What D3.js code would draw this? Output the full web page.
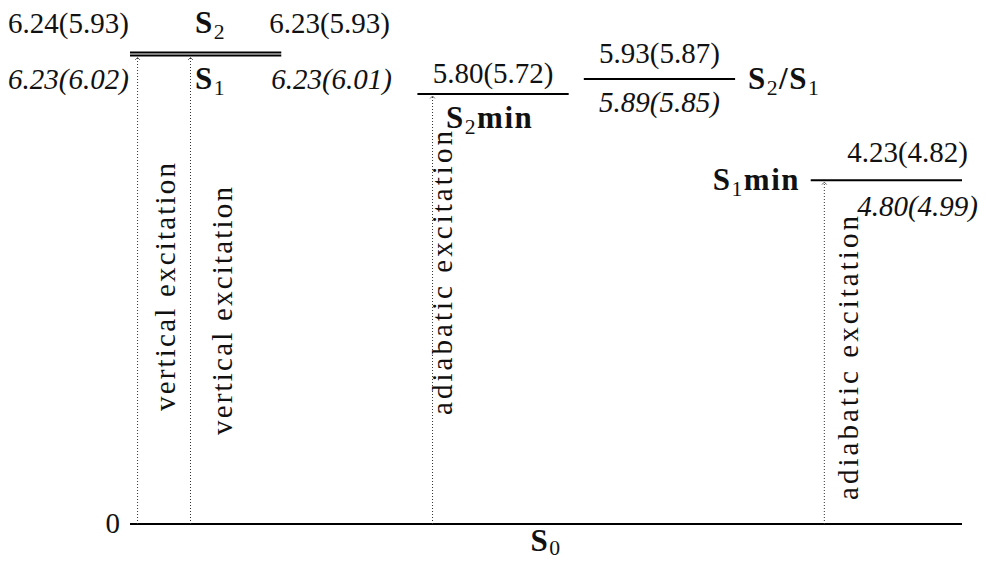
<!DOCTYPE html>
<html>
<head>
<meta charset="utf-8">
<script src="https://cdn.jsdelivr.net/npm/d3@7/dist/d3.min.js"></script>
<style>
  body { margin: 0; background: #fff; }
  svg text { font-family: "Liberation Serif", "DejaVu Serif", serif; fill: #111; }
  .level { stroke: #000; stroke-width: 2; }
  .exc { stroke: #333; stroke-width: 1; stroke-dasharray: 1,2; fill: none; }
</style>
</head>
<body>
<svg id="chart"></svg>
<script>
// excited-state levels, drawn height in eV, reaction coordinate of the left end
const levelNames = ["S2", "S1", "S2min", "S2/S1", "S1min"];
const levelEnergy = [6.24, 6.20, 5.69, 5.89, 4.55];
const levelStart = [0, 0, 1.9, 3.0, 4.5];
const LEVEL_WIDTH = 1;

// value labels: upright above the line, italic below it
const upperLabels = ["6.24(5.93)", "6.23(5.93)", "5.80(5.72)", "5.93(5.87)", "4.23(4.82)"];
const lowerLabels = ["6.23(6.02)", "6.23(6.01)", "", "5.89(5.85)", "4.80(4.99)"];

// excitation arrows from S0
const arrowCoord = [0.05, 0.4, 2.0, 4.59];
const arrowTarget = ["S1", "S1", "S2min", "S1min"];
const arrowText = ["vertical excitation", "vertical excitation", "adiabatic excitation", "adiabatic excitation"];

const width = 999, height = 563;
const FS = 29, FSB = 31;

const svg = d3.select("#chart").attr("width", width).attr("height", height)
    .attr("font-family", "Liberation Serif, DejaVu Serif, serif");

const x = d3.scaleLinear().domain([0, 5.5]).range([130, 962]);
const y = d3.scaleLinear().domain([0, 6.24]).range([524, 52.5]);

const lvl = name => levelNames.indexOf(name);

// ground state
svg.append("line").attr("class", "level")
    .attr("x1", x(0)).attr("x2", x(5.5))
    .attr("y1", y(0)).attr("y2", y(0));

svg.append("text").attr("x", x(0) - 10).attr("y", y(0) + 9)
    .attr("text-anchor", "end").attr("font-size", FS).text("0");

function bold(xp, yp, anchor) {
    return svg.append("text").attr("x", xp).attr("y", yp)
        .attr("text-anchor", anchor).attr("font-size", FSB)
        .attr("font-weight", "bold").attr("letter-spacing", 1.5);
}
function stateLabel(g, parts, sub = 6) {
    // parts: alternating main / subscript strings
    parts.forEach((p, i) => {
        const t = g.append("tspan").text(p);
        if (i % 2) t.attr("font-size", FSB * 0.7).attr("font-weight", "normal").attr("dy", sub);
        else if (i > 0) t.attr("dy", -sub);
    });
}

stateLabel(bold(x(2.75), y(0) + 27, "middle"), ["S", "0"], 4);

// excited levels
svg.selectAll("line.exlevel")
    .data(levelNames)
    .join("line")
    .attr("class", "level exlevel")
    .attr("x1", (d, i) => x(levelStart[i]))
    .attr("x2", (d, i) => x(levelStart[i] + LEVEL_WIDTH))
    .attr("y1", (d, i) => y(levelEnergy[i]))
    .attr("y2", (d, i) => y(levelEnergy[i]));

// arrowhead
svg.append("defs").append("marker")
    .attr("id", "head").attr("viewBox", "-5 -5 10 10")
    .attr("markerWidth", 8).attr("markerHeight", 8)
    .attr("orient", "auto").attr("markerUnits", "userSpaceOnUse")
    .append("path").attr("d", "M-3,-3L0,0L-3,3")
    .attr("fill", "none").attr("stroke", "#000").attr("stroke-width", 0.8);

svg.selectAll("line.exc")
    .data(arrowCoord)
    .join("line")
    .attr("class", "exc")
    .attr("x1", d => x(d)).attr("x2", d => x(d))
    .attr("y1", y(0))
    .attr("y2", (d, i) => y(levelEnergy[lvl(arrowTarget[i])]) + 2)
    .attr("marker-end", "url(#head)");

// rotated arrow captions: [x offset of baseline from arrow, y of text start, length]
const capLayout = [[37, 411, 248], [41, 435, 248], [19, 415, 284], [34, 500, 284]];
svg.selectAll("text.cap")
    .data(arrowText)
    .join("text")
    .attr("class", "cap")
    .attr("font-size", FS)
    .attr("textLength", (d, i) => capLayout[i][2])
    .attr("lengthAdjust", "spacing")
    .attr("transform", (d, i) => `translate(${x(arrowCoord[i]) + capLayout[i][0]},${capLayout[i][1]}) rotate(-90)`)
    .text(d => d);

// value labels
const S2 = lvl("S2"), S1 = lvl("S1"), S2m = lvl("S2min"), CI = lvl("S2/S1"), S1m = lvl("S1min");

function num(xp, yp, txt, anchor, italic) {
    svg.append("text").attr("x", xp).attr("y", yp)
        .attr("text-anchor", anchor).attr("font-size", FS)
        .attr("font-style", italic ? "italic" : "normal")
        .text(txt);
}

num(8, y(levelEnergy[S2]) - 20, upperLabels[0], "start");
num(390, y(levelEnergy[S2]) - 20, upperLabels[1], "end");
num(8, y(levelEnergy[S1]) + 33, lowerLabels[0], "start", true);
num(392, y(levelEnergy[S1]) + 33, lowerLabels[1], "end", true);

num(x(levelStart[S2m] + LEVEL_WIDTH / 2), y(levelEnergy[S2m]) - 11, upperLabels[2], "middle");
num(x(levelStart[CI] + LEVEL_WIDTH / 2), y(levelEnergy[CI]) - 16, upperLabels[3], "middle");
num(x(levelStart[CI] + LEVEL_WIDTH / 2), y(levelEnergy[CI]) + 33, lowerLabels[3], "middle", true);
num(968, y(levelEnergy[S1m]) - 18, upperLabels[4], "end");
num(978, y(levelEnergy[S1m]) + 36, lowerLabels[4], "end", true);

// state names
stateLabel(bold(195, y(levelEnergy[S2]) - 20, "start"), ["S", "2"]);
stateLabel(bold(195, y(levelEnergy[S1]) + 33, "start"), ["S", "1"]);
stateLabel(bold(446, y(levelEnergy[S2m]) + 34, "start"), ["S", "2", "min"]);
stateLabel(bold(748, y(levelEnergy[CI]) + 10, "start"), ["S", "2", "/S", "1"]);
stateLabel(bold(800, y(levelEnergy[S1m]) + 10, "end"), ["S", "1", "min"]);
</script>
</body>
</html>
